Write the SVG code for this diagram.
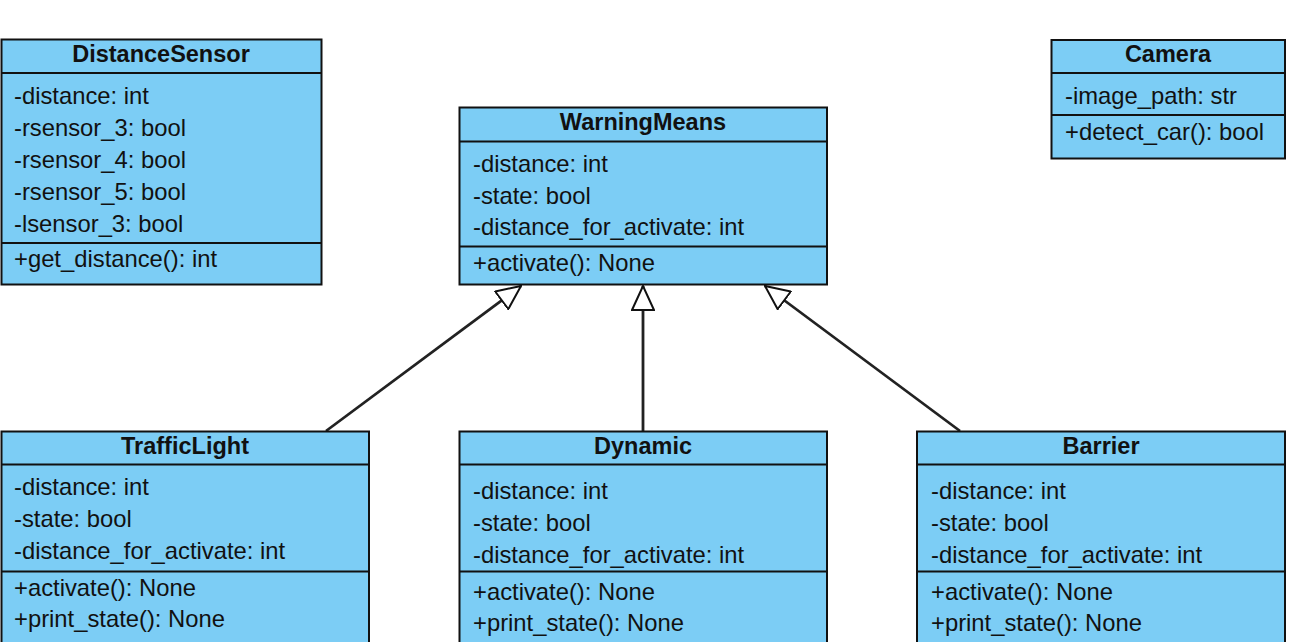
<svg xmlns="http://www.w3.org/2000/svg" width="1292" height="642" viewBox="0 0 1292 642">
<defs>
<style>
.box{fill:#7ccdf5;stroke:#111;stroke-width:2}
.div{stroke:#111;stroke-width:2}
.t{font-family:"Liberation Sans",Arial,sans-serif;font-size:23.8px;fill:#111}
.h{font-family:"Liberation Sans",Arial,sans-serif;font-size:23.5px;font-weight:bold;fill:#111;text-anchor:middle}
.c{stroke:#222;stroke-width:2.8;fill:none;marker-end:url(#tri)}
</style>
<marker id="tri" viewBox="0 0 26 24" refX="25" refY="12" markerWidth="26" markerHeight="24" markerUnits="userSpaceOnUse" orient="auto">
<path d="M1,1 L25,12 L1,23 Z" fill="#fff" stroke="#111" stroke-width="2"/>
</marker>
</defs>
<rect width="1292" height="642" fill="#fff"/>
<g id="connectors">
<line class="c" x1="326" y1="431" x2="521" y2="286"/>
<line class="c" x1="643" y1="431" x2="643" y2="286"/>
<line class="c" x1="960" y1="431" x2="765" y2="286"/>
</g>
<g id="DistanceSensor">
<rect class="box" x="1.5" y="39.5" width="320" height="245"/>
<line class="div" x1="1.5" y1="73" x2="321.5" y2="73"/>
<line class="div" x1="1.5" y1="243" x2="321.5" y2="243"/>
<text class="h" x="161" y="62">DistanceSensor</text>
<text class="t" x="14" y="104">-distance: int</text>
<text class="t" x="14" y="136">-rsensor_3: bool</text>
<text class="t" x="14" y="168">-rsensor_4: bool</text>
<text class="t" x="14" y="200">-rsensor_5: bool</text>
<text class="t" x="14" y="232">-lsensor_3: bool</text>
<text class="t" x="14" y="267">+get_distance(): int</text>
</g>
<g id="WarningMeans">
<rect class="box" x="459.5" y="107.5" width="367.5" height="177"/>
<line class="div" x1="459.5" y1="141.5" x2="827" y2="141.5"/>
<line class="div" x1="459.5" y1="246.5" x2="827" y2="246.5"/>
<text class="h" x="643" y="130">WarningMeans</text>
<text class="t" x="473" y="171.5">-distance: int</text>
<text class="t" x="473" y="203.5">-state: bool</text>
<text class="t" x="473" y="235">-distance_for_activate: int</text>
<text class="t" x="473" y="270.5">+activate(): None</text>
</g>
<g id="Camera">
<rect class="box" x="1051.5" y="40" width="233.5" height="118.5"/>
<line class="div" x1="1051.5" y1="73" x2="1285" y2="73"/>
<line class="div" x1="1051.5" y1="115" x2="1285" y2="115"/>
<text class="h" x="1168" y="62">Camera</text>
<text class="t" x="1065" y="104">-image_path: str</text>
<text class="t" x="1065" y="140">+detect_car(): bool</text>
</g>
<g id="TrafficLight">
<rect class="box" x="1.5" y="431.5" width="367.5" height="230"/>
<line class="div" x1="1.5" y1="464.5" x2="369" y2="464.5"/>
<line class="div" x1="1.5" y1="571.5" x2="369" y2="571.5"/>
<text class="h" x="185" y="453.5">TrafficLight</text>
<text class="t" x="14" y="495">-distance: int</text>
<text class="t" x="14" y="526.5">-state: bool</text>
<text class="t" x="14" y="558.5">-distance_for_activate: int</text>
<text class="t" x="14" y="596">+activate(): None</text>
<text class="t" x="14" y="627">+print_state(): None</text>
</g>
<g id="Dynamic">
<rect class="box" x="459.5" y="431.5" width="367.5" height="230"/>
<line class="div" x1="459.5" y1="464.5" x2="827" y2="464.5"/>
<line class="div" x1="459.5" y1="571.5" x2="827" y2="571.5"/>
<text class="h" x="643" y="453.5">Dynamic</text>
<text class="t" x="473" y="499">-distance: int</text>
<text class="t" x="473" y="531">-state: bool</text>
<text class="t" x="473" y="563">-distance_for_activate: int</text>
<text class="t" x="473" y="599.5">+activate(): None</text>
<text class="t" x="473" y="631">+print_state(): None</text>
</g>
<g id="Barrier">
<rect class="box" x="917" y="431.5" width="368" height="230"/>
<line class="div" x1="917" y1="464.5" x2="1285" y2="464.5"/>
<line class="div" x1="917" y1="571.5" x2="1285" y2="571.5"/>
<text class="h" x="1101" y="453.5">Barrier</text>
<text class="t" x="931" y="499">-distance: int</text>
<text class="t" x="931" y="531">-state: bool</text>
<text class="t" x="931" y="563">-distance_for_activate: int</text>
<text class="t" x="931" y="599.5">+activate(): None</text>
<text class="t" x="931" y="631">+print_state(): None</text>
</g>
</svg>
